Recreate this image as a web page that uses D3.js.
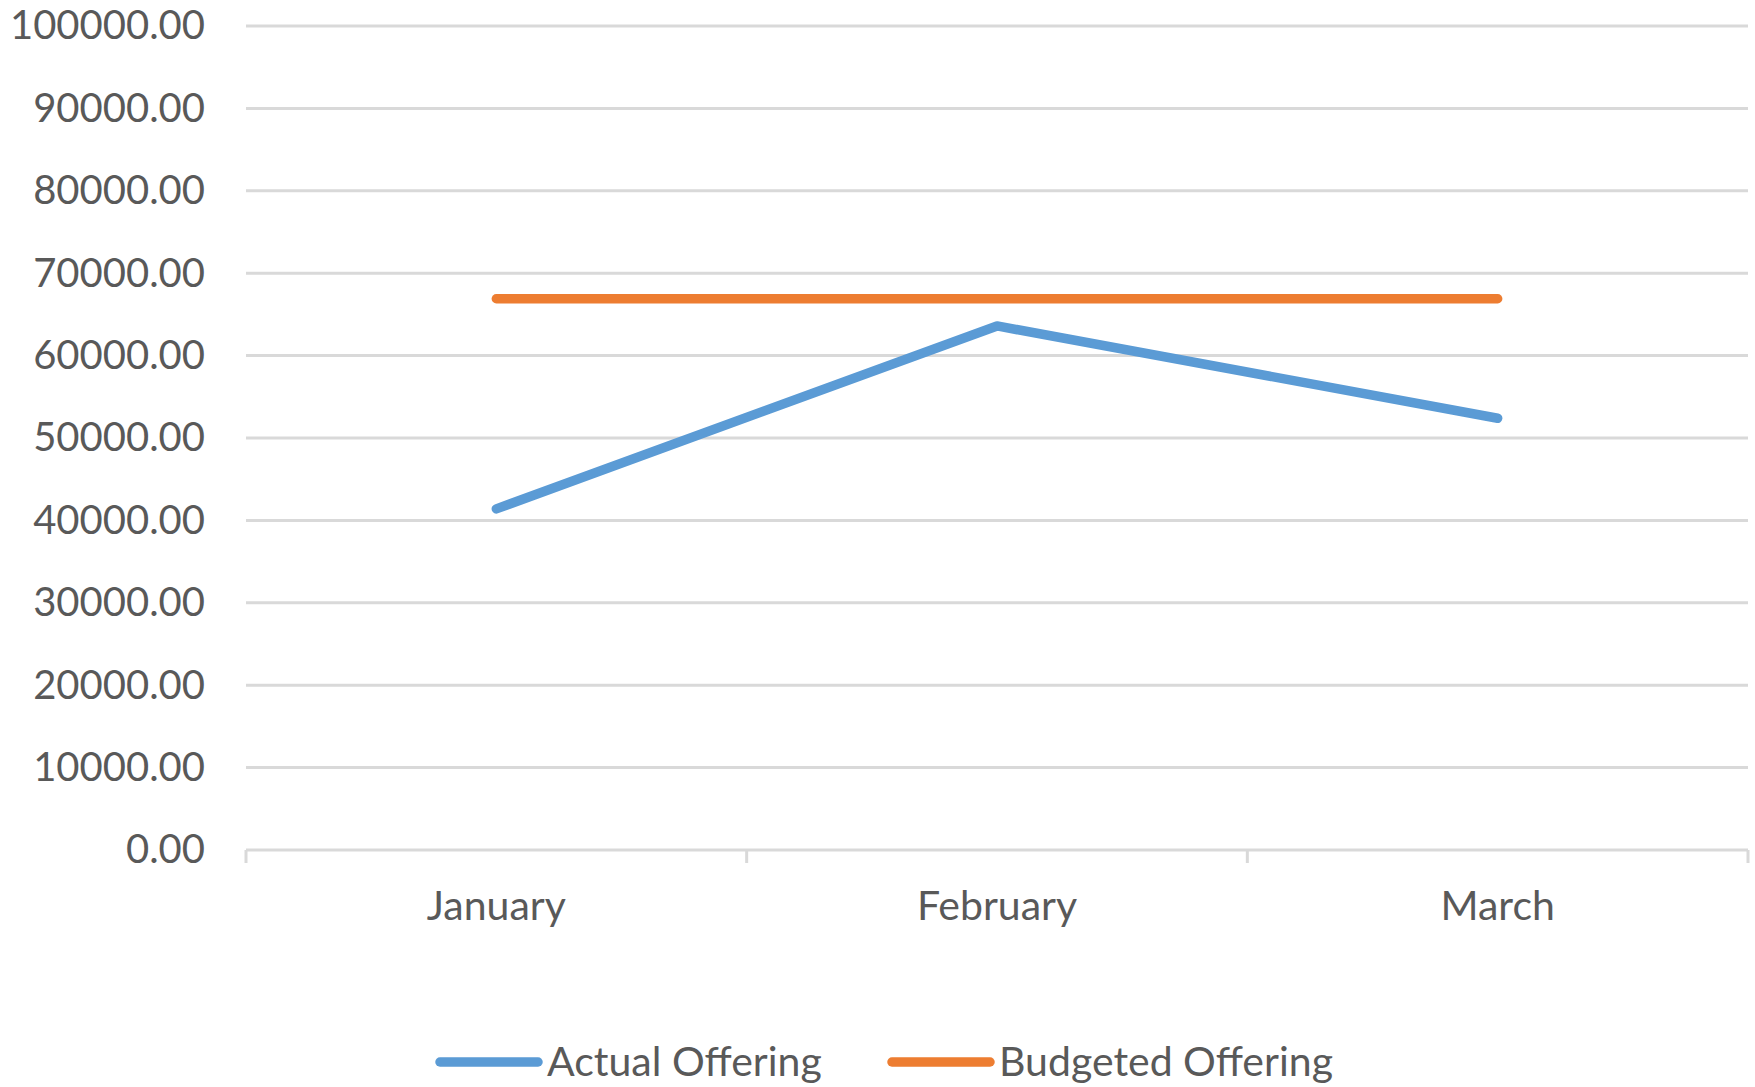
<!DOCTYPE html>
<html>
<head>
<meta charset="utf-8">
<script src="https://cdn.jsdelivr.net/npm/d3@7"></script>
<style>
  body { margin: 0; background: #fff; }
  text { font-family: Lato, "Open Sans", sans-serif; fill: #595959; }
</style>
</head>
<body>
<svg id="chart"></svg>
<script>
// chart data
const months = ["January", "February", "March"];
const actualOffering = [41400, 63600, 52400];
const budgetedOffering = [66900, 66900, 66900];
const seriesNames = ["Actual Offering", "Budgeted Offering"];
const seriesColors = ["#5B9BD5", "#ED7D31"];
const yTicks = [0, 10000, 20000, 30000, 40000, 50000, 60000, 70000, 80000, 90000, 100000];

const width = 1755, height = 1087;
const margin = {top: 26, right: 7, bottom: 237, left: 246};
const innerW = width - margin.left - margin.right;
const innerH = height - margin.top - margin.bottom;

const svg = d3.select("#chart")
    .attr("width", width)
    .attr("height", height);

const chart = svg.append("g")
    .attr("transform", `translate(${margin.left},${margin.top})`);

const x = d3.scaleBand()
    .domain(months)
    .range([0, innerW])
    .padding(0);

const y = d3.scaleLinear()
    .domain([0, 100000])
    .range([innerH, 0]);

// gridlines
chart.append("g")
    .selectAll("line")
    .data(yTicks.slice(1))
    .join("line")
      .attr("x1", 0)
      .attr("x2", innerW)
      .attr("y1", d => y(d))
      .attr("y2", d => y(d))
      .attr("stroke", "#D9D9D9")
      .attr("stroke-width", 3);

// y labels
const yAxis = chart.append("g")
    .call(d3.axisLeft(y).tickValues(yTicks).tickFormat(d3.format(".2f")).tickSize(0).tickPadding(41));
yAxis.select(".domain").remove();
yAxis.selectAll("text")
    .attr("font-size", 40)
    .attr("font-family", null)
    .attr("fill", "#595959");

// x axis line with ticks on band edges
const xAxisG = chart.append("g").attr("transform", `translate(0,${innerH})`);
xAxisG.append("line")
    .attr("x1", 0).attr("x2", innerW)
    .attr("y1", 0).attr("y2", 0)
    .attr("stroke", "#D9D9D9").attr("stroke-width", 3);
const edges = months.map(m => x(m)).concat([x(months[months.length - 1]) + x.bandwidth()]);
xAxisG.selectAll("line.tick")
    .data(edges)
    .join("line")
      .attr("class", "tick")
      .attr("x1", d => d).attr("x2", d => d)
      .attr("y1", 0).attr("y2", 13)
      .attr("stroke", "#D9D9D9").attr("stroke-width", 3);
xAxisG.selectAll("text")
    .data(months)
    .join("text")
      .attr("x", d => x(d) + x.bandwidth() / 2)
      .attr("y", 70)
      .attr("text-anchor", "middle")
      .attr("font-size", 41)
      .text(d => d);

// lines
const line = d3.line()
    .x((d, i) => x(months[i]) + x.bandwidth() / 2)
    .y(d => y(d));

[actualOffering, budgetedOffering].forEach((vals, i) => {
  chart.append("path")
      .datum(vals)
      .attr("fill", "none")
      .attr("stroke", seriesColors[i])
      .attr("stroke-width", 9.5)
      .attr("stroke-linecap", "round")
      .attr("stroke-linejoin", "round")
      .attr("d", line);
});

// legend
const legendX = [440, 892];
const legend = svg.append("g").attr("transform", "translate(0,1062)");
seriesNames.forEach((name, i) => {
  legend.append("line")
      .attr("x1", legendX[i]).attr("x2", legendX[i] + 98)
      .attr("y1", 0).attr("y2", 0)
      .attr("stroke", seriesColors[i])
      .attr("stroke-width", 9.5)
      .attr("stroke-linecap", "round");
  legend.append("text")
      .attr("x", legendX[i] + 107)
      .attr("y", 14)
      .attr("font-size", 41)
      .text(name);
});
</script>
</body>
</html>
